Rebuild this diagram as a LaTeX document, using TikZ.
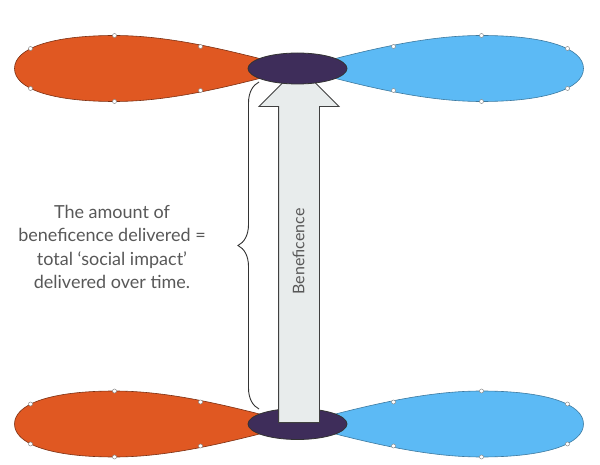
\documentclass[tikz,border=0pt]{standalone}
\usepackage{fontspec}
\setmainfont{Lato}
\usetikzlibrary{shapes.geometric, shapes.arrows, decorations.pathreplacing, calc}
\definecolor{lobeorange}{RGB}{224,88,34}
\definecolor{lobeblue}{RGB}{92,186,245}
\definecolor{hubpurple}{RGB}{62,45,90}
\definecolor{arrowgrey}{RGB}{232,236,236}
\definecolor{textgrey}{RGB}{88,88,88}

\begin{document}
\begin{tikzpicture}[
    x=1pt, y=-1pt,
    every node/.style={font=\fontsize{18}{23.5}\selectfont, text=textgrey},
    lobeA/.style={fill=lobeorange, draw=black!45!lobeorange, line width=0.6pt},
    lobeB/.style={fill=lobeblue, draw=black!35!lobeblue, line width=0.6pt},
    handle/.style={fill=white, draw=black!45, line width=0.5pt},
    hub/.style={ellipse, fill=hubpurple, draw=black!80, line width=0.8pt,
        minimum width=99pt, minimum height=31pt, inner sep=0pt},
    blockarrow/.style={single arrow, fill=arrowgrey, draw=black!75, line width=0.9pt,
        single arrow tip angle=90, single arrow head extend=19.5pt,
        text height=0pt, text depth=0pt, inner xsep=0pt, inner ysep=20pt,
        minimum height=356pt},
    bracket/.style={decorate, decoration={brace, amplitude=21pt}, draw=black!80, line width=0.9pt},
]
\useasboundingbox (0,0) rectangle (600,465);

% ============================================================
% Propeller lobes (top and bottom)
% ============================================================
\foreach \yc in {68.5, 424} {
    \begin{scope}[shift={(297.5,\yc)}]
        % orange lobe
        \draw[lobeA] (0,0) .. controls (-67,-18) and (-127,-33) .. (-183,-33)
            .. controls (-247,-33) and (-283,-20) .. (-283,0)
            .. controls (-283,20) and (-247,33) .. (-183,33)
            .. controls (-127,33) and (-67,18) .. (0,0);
        % blue lobe
        \draw[lobeB] (0,0) .. controls (67,-18) and (127,-33) .. (184,-33)
            .. controls (249,-33) and (286,-20) .. (286,0)
            .. controls (286,20) and (249,33) .. (184,33)
            .. controls (127,33) and (67,18) .. (0,0);
        % selection handles
        \foreach \hx/\hy in {-183/-33, -183/33, -267/-20, -267/20, -97/-22, -97/22,
                             184/-33, 184/33, 270/-20, 270/20, 96/-22, 96/22}
            \draw[handle] (\hx,\hy) circle (2);
    \end{scope}
}

% --- bottom hub, arrow, top hub ---
\node[hub] (hubbot) at (297.5,424) {};
\node[blockarrow, rotate=90, anchor=tail] (benef) at (299,423) {};
\node[rotate=90, font=\fontsize{16}{19}\selectfont] (beneflabel) at (298.5,251.5) {Beneficence};
\node[hub] (hubtop) at (297.5,68.5) {};

% --- brace and description ---
\coordinate (bracetop) at (259,82);
\coordinate (bracebot) at (259,409);
\draw[bracket] (bracebot) -- (bracetop);

\node[align=center] (amount) at (112,247) {The amount of\\beneficence delivered =\\total `social impact'\\delivered over time.};

\end{tikzpicture}
\end{document}
